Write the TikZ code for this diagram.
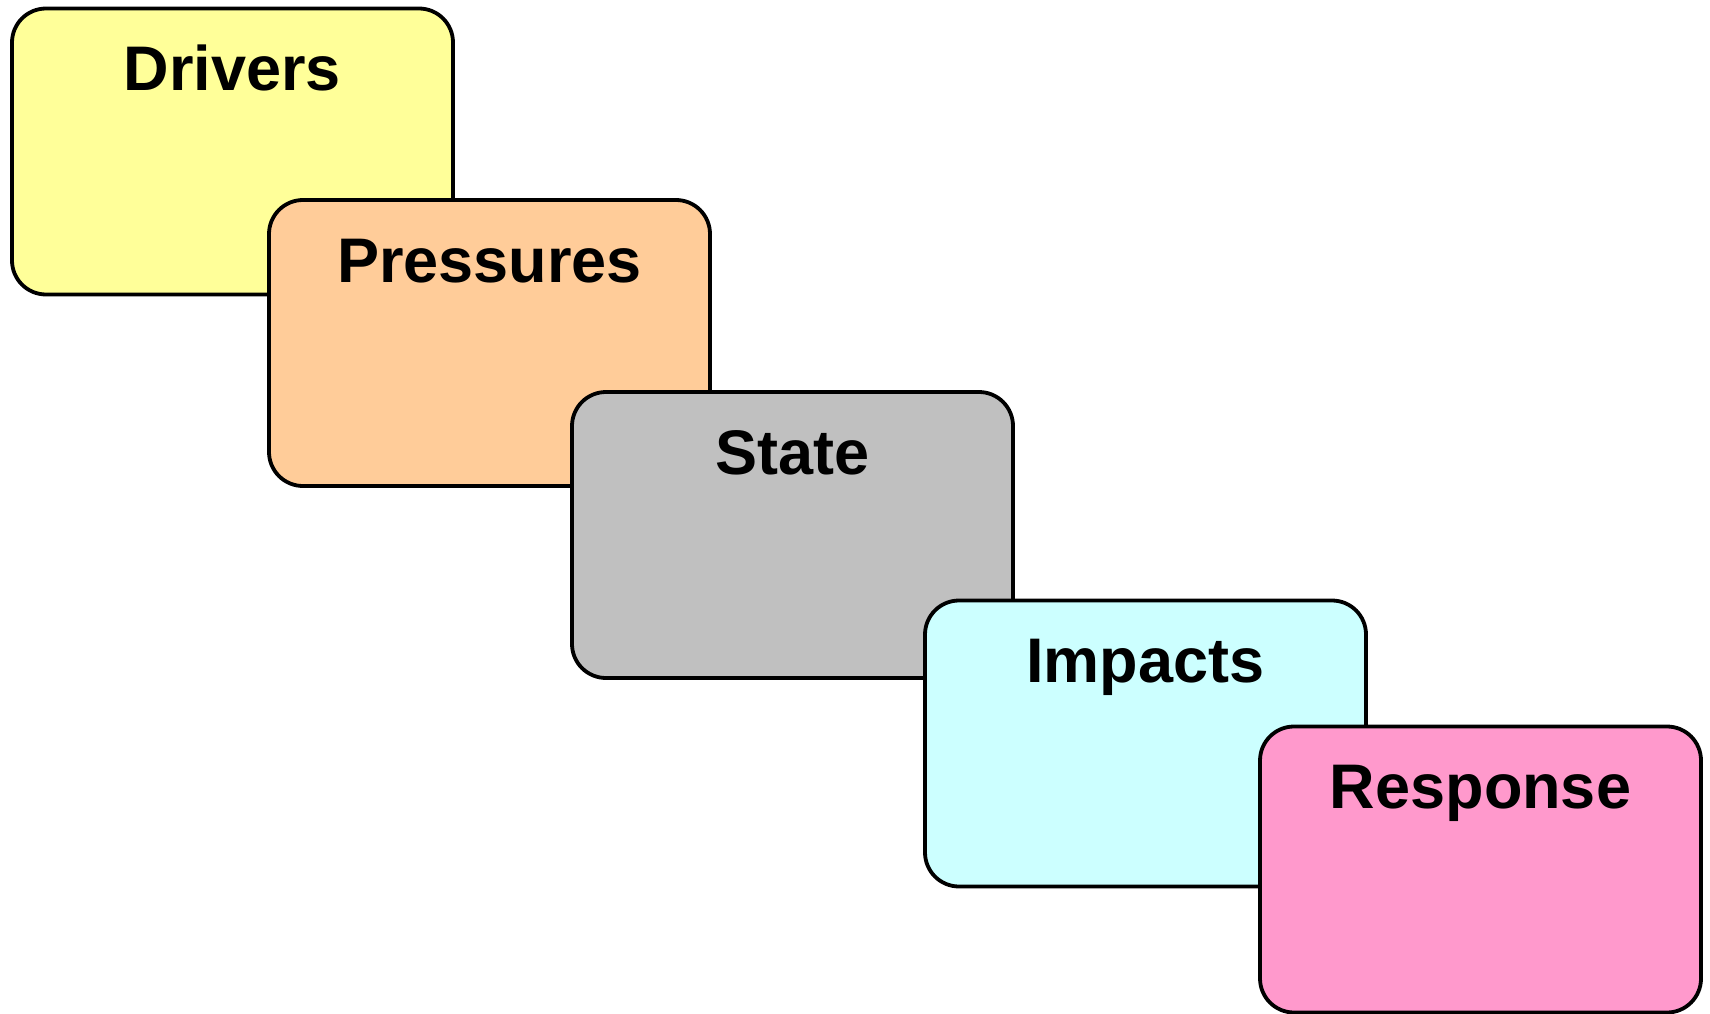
\documentclass[tikz,border=0pt]{standalone}
\usepackage{fontspec}
\setmainfont{Liberation Sans}
\definecolor{cdrv}{HTML}{FFFF99}
\definecolor{cprs}{HTML}{FFCC99}
\definecolor{csta}{HTML}{C0C0C0}
\definecolor{cimp}{HTML}{CCFFFF}
\definecolor{cres}{HTML}{FF99CC}
\tikzset{
  dbox/.style={draw=black, line width=3.8pt, rounded corners=34pt, rectangle,
    minimum width=441pt, minimum height=286pt, inner sep=0pt},
  dtitle/.style={anchor=base, inner sep=0pt, font=\bfseries\fontsize{63}{63}\selectfont}
}
\begin{document}
\begin{tikzpicture}[x=1pt,y=-1pt]
\useasboundingbox (0,0) rectangle (1710,1014);
\node[dbox, fill=cdrv] (drivers) at (232.5,151.5) {};
\node[dtitle] (driverst) at ([yshift=-84pt]drivers.north) {Drivers};
\node[dbox, fill=cprs] (pressures) at (489.5,343) {};
\node[dtitle] (pressurest) at ([yshift=-84pt]pressures.north) {Pressures};
\node[dbox, fill=csta] (state) at (792.5,535) {};
\node[dtitle] (statet) at ([yshift=-84pt]state.north) {State};
\node[dbox, fill=cimp] (impacts) at (1145.5,743.5) {};
\node[dtitle] (impactst) at ([yshift=-84pt]impacts.north) {Impacts};
\node[dbox, fill=cres] (response) at (1480.5,869.5) {};
\node[dtitle] (responset) at ([yshift=-84pt]response.north) {Response};
\end{tikzpicture}
\end{document}
